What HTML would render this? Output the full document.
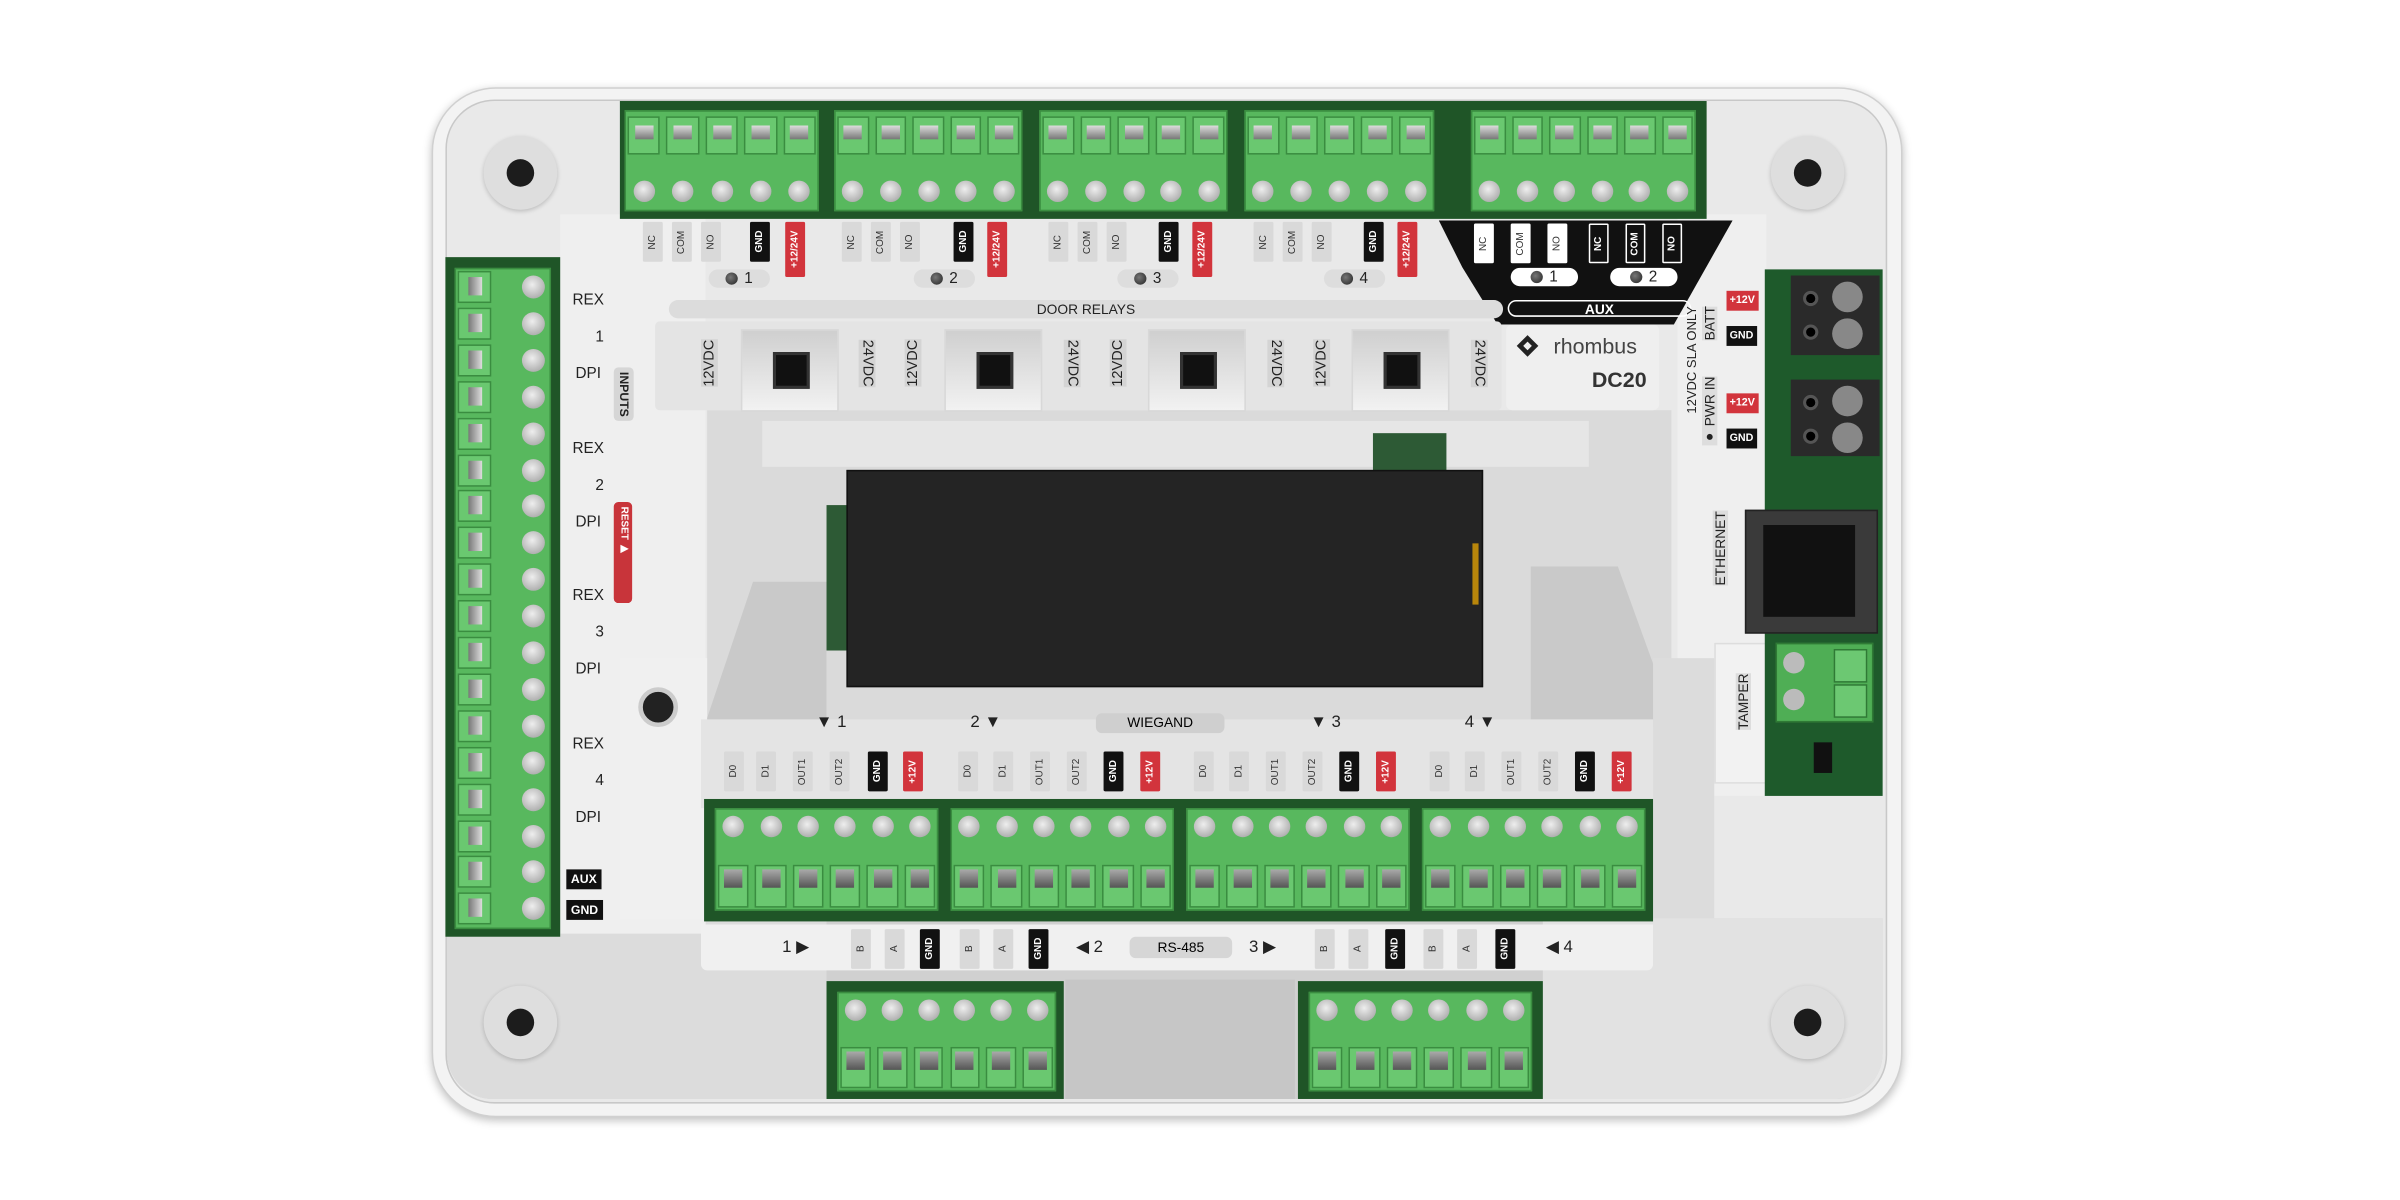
<!DOCTYPE html>
<html><head><meta charset="utf-8">
<style>
html,body{margin:0;padding:0;background:#fff;width:2400px;height:1200px;overflow:hidden}
#s{position:absolute;left:0;top:0;width:1568px;height:784px;transform:scale(1.5306);transform-origin:0 0;font-family:"Liberation Sans",sans-serif}
.a{position:absolute}
.lb{position:absolute;width:13px;height:26px;display:flex;align-items:center;justify-content:center;font-size:6.5px;color:#333;background:#d9d9d9;border-radius:1px}
.k{background:#111;color:#fff;font-weight:bold}
.r{background:#d2343c;color:#fff;font-weight:bold}
.w{background:#fff;color:#333}
.kb{background:#111;color:#fff;font-weight:bold;border:1px solid #fff;box-sizing:border-box}
.v{writing-mode:vertical-rl;transform:rotate(180deg)}
.vd{writing-mode:vertical-rl}
.t{position:absolute;font-size:10px;color:#222}
.dg{position:absolute;background:#1f5527}
.pill{position:absolute;height:12px;border-radius:6px;background:#ddd;font-size:10px;display:flex;align-items:center;justify-content:center;gap:4px;color:#222}
.led{width:8px;height:8px;border-radius:50%;background:radial-gradient(circle at 40% 40%,#777,#222)}
.sw{position:absolute;width:62px;height:52px;background:linear-gradient(#cfcfcf,#f2f2f2);border:1px solid #d8d8d8}
.sw i{position:absolute;left:20px;top:14px;width:24px;height:24px;background:#111;border:2px solid #333;box-sizing:border-box}
</style></head><body>
<div id="s">
<div class="a" style="left:282px;top:57px;width:959px;height:671px;border-radius:42px;background:#f3f3f3;box-shadow:0 2px 6px rgba(0,0,0,.25);border:1px solid #d0d0d0"></div>
<div class="a" style="left:291px;top:65px;width:940px;height:654px;border-radius:32px;background:#e9e9e9;border:1px solid #c8c8c8"></div>
<div class="a" style="left:292px;top:600px;width:938px;height:118px;background:#d0d0d0;border-radius:0 0 30px 30px"></div>
<div class="a" style="left:696px;top:640px;width:150px;height:78px;background:#c6c6c6"></div>
<div class="a" style="left:1008px;top:600px;width:222px;height:118px;background:#e2e2e2;border-radius:0 0 30px 0"></div>
<div class="a" style="left:292px;top:600px;width:248px;height:118px;background:#dcdcdc;border-radius:0 0 0 30px"></div>
<div class="a" style="left:366px;top:140px;width:95px;height:470px;background:#efefef"></div>
<div class="a" style="left:1096px;top:140px;width:58px;height:380px;background:#efefef"></div>
<div class="a" style="left:1120px;top:420px;width:34px;height:90px;background:#f2f2f2;border:1px solid #ddd"></div>
<div class="a" style="left:462px;top:268px;width:630px;height:205px;background:#dadada"></div>
<div class="a" style="left:498px;top:275px;width:540px;height:30px;background:#e6e6e6"></div>
<div class="a" style="left:460px;top:380px;width:80px;height:95px;background:#c9c9c9;clip-path:polygon(40% 0,100% 0,100% 100%,0 100%)"></div>
<div class="a" style="left:1000px;top:370px;width:95px;height:105px;background:#c9c9c9;clip-path:polygon(0 0,60% 0,100% 100%,0 100%)"></div>
<div class="a" style="left:405px;top:430px;width:57px;height:170px;background:#f0f0f0"></div>
<div class="a" style="left:1080px;top:430px;width:40px;height:170px;background:#dcdcdc"></div>
<div class="a" style="left:458px;top:470px;width:622px;height:58px;background:#e4e4e4"></div>
<div class="a" style="left:540px;top:330px;width:16px;height:95px;background:#2d5a35"></div>
<div class="a" style="left:897px;top:283px;width:48px;height:26px;background:#2d5a35"></div>
<div class="a" style="left:553px;top:307px;width:414px;height:140px;background:#242424;border:1px solid #111"></div>
<div class="a" style="left:962px;top:355px;width:4px;height:40px;background:#b8860b"></div>
<div class="a" style="left:316px;top:89px;width:48px;height:48px;border-radius:50%;background:#dedede;box-shadow:0 1px 3px rgba(0,0,0,.2)"></div>
<div class="a" style="left:1157px;top:89px;width:48px;height:48px;border-radius:50%;background:#dedede;box-shadow:0 1px 3px rgba(0,0,0,.2)"></div>
<div class="a" style="left:316px;top:644px;width:48px;height:48px;border-radius:50%;background:#dedede;box-shadow:0 1px 3px rgba(0,0,0,.2)"></div>
<div class="a" style="left:1157px;top:644px;width:48px;height:48px;border-radius:50%;background:#dedede;box-shadow:0 1px 3px rgba(0,0,0,.2)"></div>
<div class="a" style="left:331px;top:104px;width:18px;height:18px;border-radius:50%;background:#1c1c1c"></div>
<div class="a" style="left:1172px;top:104px;width:18px;height:18px;border-radius:50%;background:#1c1c1c"></div>
<div class="a" style="left:331px;top:659px;width:18px;height:18px;border-radius:50%;background:#1c1c1c"></div>
<div class="a" style="left:1172px;top:659px;width:18px;height:18px;border-radius:50%;background:#1c1c1c"></div>
<div class="dg" style="left:405px;top:66px;width:710px;height:77px"></div>
<div class="dg" style="left:291px;top:168px;width:75px;height:444px"></div>
<div class="dg" style="left:460px;top:522px;width:620px;height:80px"></div>
<div class="dg" style="left:540px;top:641px;width:155px;height:77px"></div>
<div class="dg" style="left:848px;top:641px;width:160px;height:77px"></div>
<div class="a" style="left:1153px;top:176px;width:77px;height:344px;background:#1e5a2b"></div>
<div id="blocks"></div>
<div class="a" style="left:1170px;top:180px;width:58px;height:52px;background:#2a2a2a"></div>
<div class="a" style="left:1170px;top:248px;width:58px;height:50px;background:#2a2a2a"></div>
<div class="a" style="left:1180px;top:192px;width:6px;height:6px;border-radius:50%;background:#000;box-shadow:0 0 0 2px #555"></div>
<div class="a" style="left:1180px;top:214px;width:6px;height:6px;border-radius:50%;background:#000;box-shadow:0 0 0 2px #555"></div>
<div class="a" style="left:1180px;top:260px;width:6px;height:6px;border-radius:50%;background:#000;box-shadow:0 0 0 2px #555"></div>
<div class="a" style="left:1180px;top:282px;width:6px;height:6px;border-radius:50%;background:#000;box-shadow:0 0 0 2px #555"></div>
<div class="a" style="left:1197px;top:184px;width:20px;height:20px;border-radius:50%;background:#888"></div>
<div class="a" style="left:1197px;top:208px;width:20px;height:20px;border-radius:50%;background:#888"></div>
<div class="a" style="left:1197px;top:252px;width:20px;height:20px;border-radius:50%;background:#888"></div>
<div class="a" style="left:1197px;top:276px;width:20px;height:20px;border-radius:50%;background:#888"></div>
<div class="a" style="left:1140px;top:333px;width:85px;height:79px;background:#3a3a3a;border:1px solid #222"></div>
<div class="a" style="left:1152px;top:343px;width:60px;height:60px;background:#111"></div>
<div class="a" style="left:1160px;top:420px;width:62px;height:50px;background:#4fae55;border:1px solid #2f7a35"></div>
<div class="a" style="left:1165px;top:426px;width:14px;height:14px;border-radius:50%;background:#bbb"></div>
<div class="a" style="left:1165px;top:450px;width:14px;height:14px;border-radius:50%;background:#bbb"></div>
<div class="a" style="left:1198px;top:424px;width:20px;height:20px;background:#6cc872;border:1px solid #2f7a35"></div>
<div class="a" style="left:1198px;top:447px;width:20px;height:20px;background:#6cc872;border:1px solid #2f7a35"></div>
<div class="a" style="left:1185px;top:485px;width:12px;height:20px;background:#111"></div>

<div class="lb v" style="left:420px;top:145px">NC</div><div class="lb v" style="left:439px;top:145px">COM</div><div class="lb v" style="left:458px;top:145px">NO</div><div class="lb v k" style="left:490px;top:145px">GND</div><div class="lb v r" style="left:513px;top:145px;height:36px">+12/24V</div>
<div class="lb v" style="left:550px;top:145px">NC</div><div class="lb v" style="left:569px;top:145px">COM</div><div class="lb v" style="left:588px;top:145px">NO</div><div class="lb v k" style="left:623px;top:145px">GND</div><div class="lb v r" style="left:645px;top:145px;height:36px">+12/24V</div>
<div class="lb v" style="left:685px;top:145px">NC</div><div class="lb v" style="left:704px;top:145px">COM</div><div class="lb v" style="left:723px;top:145px">NO</div><div class="lb v k" style="left:757px;top:145px">GND</div><div class="lb v r" style="left:779px;top:145px;height:36px">+12/24V</div>
<div class="lb v" style="left:819px;top:145px">NC</div><div class="lb v" style="left:838px;top:145px">COM</div><div class="lb v" style="left:857px;top:145px">NO</div><div class="lb v k" style="left:891px;top:145px">GND</div><div class="lb v r" style="left:913px;top:145px;height:36px">+12/24V</div>
<div class="pill" style="left:463px;top:176px;width:40px"><span class="led"></span>1</div>
<div class="pill" style="left:597px;top:176px;width:40px"><span class="led"></span>2</div>
<div class="pill" style="left:730px;top:176px;width:40px"><span class="led"></span>3</div>
<div class="pill" style="left:865px;top:176px;width:40px"><span class="led"></span>4</div>
<div class="a" style="left:940px;top:144px;width:192px;height:68px;background:#111;clip-path:polygon(0 0,100% 0,80% 100%,20% 100%,8% 45%)"></div>
<div class="lb v w" style="left:963px;top:146px">NC</div><div class="lb v w" style="left:987px;top:146px">COM</div><div class="lb v w" style="left:1011px;top:146px">NO</div>
<div class="lb v kb" style="left:1038px;top:146px">NC</div><div class="lb v kb" style="left:1062px;top:146px">COM</div><div class="lb v kb" style="left:1086px;top:146px">NO</div>
<div class="pill" style="left:987px;top:175px;width:44px;background:#fff"><span class="led"></span>1</div>
<div class="pill" style="left:1052px;top:175px;width:44px;background:#fff"><span class="led"></span>2</div>
<div class="a" style="left:985px;top:196px;width:120px;height:11px;border:1px solid #fff;border-radius:6px;color:#fff;font-size:9px;font-weight:bold;text-align:center;line-height:11px;box-sizing:border-box">AUX</div>
<div class="a" style="left:437px;top:196px;width:545px;height:12px;border-radius:6px;background:#dcdcdc;font-size:9px;text-align:center;line-height:12px;color:#222">DOOR RELAYS</div>
<div class="a" style="left:428px;top:210px;width:553px;height:58px;background:#e4e4e4;border-radius:3px"></div>
<div class="sw" style="left:484px;top:215px"><i></i></div>
<div class="sw" style="left:617px;top:215px"><i></i></div>
<div class="sw" style="left:750px;top:215px"><i></i></div>
<div class="sw" style="left:883px;top:215px"><i></i></div>
<div class="t v" style="left:458px;top:222px;font-size:9.5px;background:#d4d4d4">12VDC</div>
<div class="t vd" style="left:561px;top:222px;font-size:9.5px;background:#d4d4d4">24VDC</div>
<div class="t v" style="left:591px;top:222px;font-size:9.5px;background:#d4d4d4">12VDC</div>
<div class="t vd" style="left:695px;top:222px;font-size:9.5px;background:#d4d4d4">24VDC</div>
<div class="t v" style="left:725px;top:222px;font-size:9.5px;background:#d4d4d4">12VDC</div>
<div class="t vd" style="left:828px;top:222px;font-size:9.5px;background:#d4d4d4">24VDC</div>
<div class="t v" style="left:858px;top:222px;font-size:9.5px;background:#d4d4d4">12VDC</div>
<div class="t vd" style="left:961px;top:222px;font-size:9.5px;background:#d4d4d4">24VDC</div>
<div class="a" style="left:984px;top:212px;width:100px;height:56px;background:#efefef;border-radius:4px"></div>
<div class="a" style="left:993px;top:221px;width:10px;height:10px;background:#222;transform:rotate(45deg)"></div>
<div class="a" style="left:996px;top:224px;width:4px;height:4px;background:#efefef;transform:rotate(45deg)"></div>
<div class="t" style="left:1015px;top:218px;font-size:14px;color:#444">rhombus</div>
<div class="t" style="left:1040px;top:240px;font-size:14px;font-weight:bold;color:#333">DC20</div>
<div class="t" style="left:374px;top:191px">REX</div><div class="t" style="left:389px;top:215px">1</div><div class="t" style="left:376px;top:239px">DPI</div>
<div class="t" style="left:374px;top:288px">REX</div><div class="t" style="left:389px;top:312px">2</div><div class="t" style="left:376px;top:336px">DPI</div>
<div class="t" style="left:374px;top:384px">REX</div><div class="t" style="left:389px;top:408px">3</div><div class="t" style="left:376px;top:432px">DPI</div>
<div class="t" style="left:374px;top:481px">REX</div><div class="t" style="left:389px;top:505px">4</div><div class="t" style="left:376px;top:529px">DPI</div>
<div class="t" style="left:370px;top:568px;background:#111;color:#fff;font-weight:bold;font-size:8px;padding:2px 3px">AUX</div>
<div class="t" style="left:370px;top:588px;background:#111;color:#fff;font-weight:bold;font-size:8px;padding:2px 3px">GND</div>
<div class="t vd" style="left:401px;top:240px;font-size:8px;font-weight:bold;background:#d6d6d6;padding:3px 2px;border-radius:3px">INPUTS</div>
<div class="t vd" style="left:401px;top:328px;font-size:6.5px;font-weight:bold;color:#fff;background:#c8343a;padding:3px 2px;border-radius:3px;height:60px">RESET ▶</div>
<div class="a" style="left:417px;top:449px;width:20px;height:20px;border-radius:50%;background:#222;border:3px solid #ccc"></div>
<div class="t" style="left:1128px;top:190px;background:#d2343c;color:#fff;font-size:7px;font-weight:bold;padding:3px 2px">+12V</div>
<div class="t" style="left:1128px;top:213px;background:#111;color:#fff;font-size:7px;font-weight:bold;padding:3px 2px">GND</div>
<div class="t" style="left:1128px;top:257px;background:#d2343c;color:#fff;font-size:7px;font-weight:bold;padding:3px 2px">+12V</div>
<div class="t" style="left:1128px;top:280px;background:#111;color:#fff;font-size:7px;font-weight:bold;padding:3px 2px">GND</div>
<div class="t v" style="left:1112px;top:200px;font-size:9px;background:#ddd">BATT</div>
<div class="t v" style="left:1112px;top:246px;font-size:9px;background:#ddd">● PWR IN</div>
<div class="t v" style="left:1100px;top:200px;font-size:8.5px">12VDC SLA ONLY</div>
<div class="t v" style="left:1119px;top:334px;font-size:9px;background:#ddd">ETHERNET</div>
<div class="t v" style="left:1134px;top:440px;font-size:9px;background:#ddd">TAMPER</div>
<div class="t" style="left:533px;top:466px;font-size:11px">▼ 1</div>
<div class="t" style="left:634px;top:466px;font-size:11px">2 ▼</div>
<div class="a" style="left:716px;top:466px;width:84px;height:13px;border-radius:4px;background:#cfcfcf;font-size:9px;text-align:center;line-height:13px">WIEGAND</div>
<div class="t" style="left:856px;top:466px;font-size:11px">▼ 3</div>
<div class="t" style="left:957px;top:466px;font-size:11px">4 ▼</div>
<div class="lb v" style="left:473px;top:491px">D0</div><div class="lb v" style="left:494px;top:491px">D1</div><div class="lb v" style="left:518px;top:491px">OUT1</div><div class="lb v" style="left:542px;top:491px">OUT2</div><div class="lb v k" style="left:567px;top:491px">GND</div><div class="lb v r" style="left:590px;top:491px">+12V</div>
<div class="lb v" style="left:626px;top:491px">D0</div><div class="lb v" style="left:649px;top:491px">D1</div><div class="lb v" style="left:673px;top:491px">OUT1</div><div class="lb v" style="left:697px;top:491px">OUT2</div><div class="lb v k" style="left:721px;top:491px">GND</div><div class="lb v r" style="left:745px;top:491px">+12V</div>
<div class="lb v" style="left:780px;top:491px">D0</div><div class="lb v" style="left:803px;top:491px">D1</div><div class="lb v" style="left:827px;top:491px">OUT1</div><div class="lb v" style="left:851px;top:491px">OUT2</div><div class="lb v k" style="left:875px;top:491px">GND</div><div class="lb v r" style="left:899px;top:491px">+12V</div>
<div class="lb v" style="left:934px;top:491px">D0</div><div class="lb v" style="left:957px;top:491px">D1</div><div class="lb v" style="left:981px;top:491px">OUT1</div><div class="lb v" style="left:1005px;top:491px">OUT2</div><div class="lb v k" style="left:1029px;top:491px">GND</div><div class="lb v r" style="left:1053px;top:491px">+12V</div>
<div class="a" style="left:458px;top:604px;width:622px;height:30px;background:#f0f0f0;border-radius:0 0 4px 4px"></div>
<div class="t" style="left:511px;top:612px;font-size:11px">1 ▶</div>
<div class="lb v" style="left:556px;top:607px">B</div><div class="lb v" style="left:578px;top:607px">A</div><div class="lb v k" style="left:601px;top:607px">GND</div>
<div class="lb v" style="left:627px;top:607px">B</div><div class="lb v" style="left:649px;top:607px">A</div><div class="lb v k" style="left:672px;top:607px">GND</div>
<div class="t" style="left:703px;top:612px;font-size:11px">◀ 2</div>
<div class="a" style="left:738px;top:612px;width:67px;height:14px;border-radius:4px;background:#d6d6d6;font-size:9px;text-align:center;line-height:14px">RS-485</div>
<div class="t" style="left:816px;top:612px;font-size:11px">3 ▶</div>
<div class="lb v" style="left:859px;top:607px">B</div><div class="lb v" style="left:881px;top:607px">A</div><div class="lb v k" style="left:905px;top:607px">GND</div>
<div class="lb v" style="left:930px;top:607px">B</div><div class="lb v" style="left:952px;top:607px">A</div><div class="lb v k" style="left:977px;top:607px">GND</div>
<div class="t" style="left:1010px;top:612px;font-size:11px">◀ 4</div>
</div>
<script>
var B=document.getElementById('blocks');
function d(x,y,w,h,st){var e=document.createElement('div');e.className='a';e.style.cssText='left:'+x+'px;top:'+y+'px;width:'+w+'px;height:'+h+'px;'+(st||'');B.appendChild(e);return e;}
function blk(x,y,w,h,n,scrTop){
 d(x,y,w,h,'background:#58b85e;border:1px solid #3a8d40;box-sizing:border-box');
 var cw=w/n;
 for(var i=0;i<n;i++){
  var cx=x+i*cw;
  if(scrTop){
   d(cx+cw/2-7,y+5,14,14,'border-radius:50%;background:radial-gradient(circle at 45% 40%,#eee,#999);');
   d(cx+2,y+h*0.55,cw-4,h*0.42,'background:#6ac870;border:1px solid #3a8d40;box-sizing:border-box');
   d(cx+cw/2-6,y+h*0.6,12,12,'background:linear-gradient(#aaa,#555)');
  }else{
   d(cx+2,y+4,cw-4,h*0.38,'background:#6ac870;border:1px solid #3a8d40;box-sizing:border-box');
   d(cx+cw/2-6,y+10,12,9,'background:linear-gradient(#ddd,#777)');
   d(cx+cw/2-7,y+h-20,14,14,'border-radius:50%;background:radial-gradient(circle at 45% 40%,#eee,#999);');
  }
 }
}
blk(408,72,127,66,5,false);blk(545,72,123,66,5,false);blk(679,72,123,66,5,false);blk(813,72,124,66,5,false);blk(961,72,147,66,6,false);
blk(467,528,146,67,6,true);blk(621,528,146,67,6,true);blk(775,528,146,67,6,true);blk(929,528,146,67,6,true);
blk(547,648,143,65,6,true);blk(855,648,146,65,6,true);
d(297,175,63,432,'background:#58b85e;border:1px solid #3a8d40;box-sizing:border-box');
for(var j=0;j<18;j++){var yy=177+j*23.9;
 d(299,yy,22,21,'background:#6ac870;border:1px solid #3a8d40;box-sizing:border-box');
 d(306,yy+4,9,12,'background:linear-gradient(90deg,#777,#ddd)');
 d(341,yy+3,15,15,'border-radius:50%;background:radial-gradient(circle at 45% 40%,#eee,#999)');}
</script>
</body></html>
